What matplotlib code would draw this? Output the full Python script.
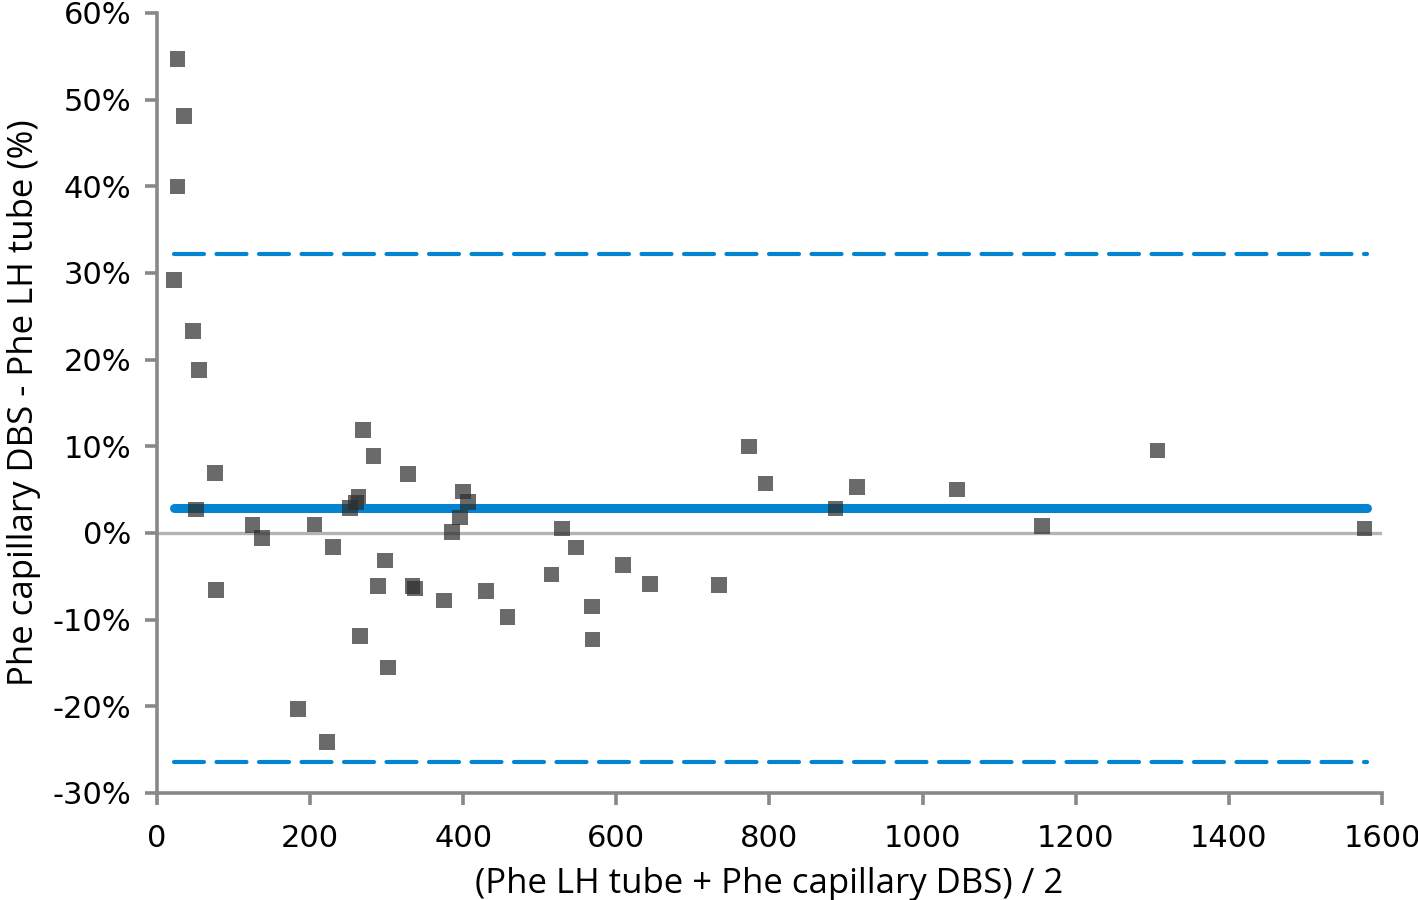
import matplotlib
matplotlib.use("Agg")
import matplotlib.pyplot as plt
from matplotlib.ticker import FuncFormatter

# Bland-Altman data: mean of the two methods vs relative difference (%)
mean_phe = [27, 35, 27, 22, 47, 55, 51, 76, 77, 125, 137, 184, 206, 230, 222,
            252, 260, 263, 265, 269, 283, 289, 298, 302, 328, 334, 337, 375,
            385, 396, 400, 406, 430, 458, 515, 529, 547, 568, 569, 609, 644,
            734, 773, 795, 886, 914, 1045, 1156, 1307, 1577]
diff_pct = [54.7, 48.1, 40.0, 29.2, 23.3, 18.8, 2.7, 6.9, -6.6, 0.9, -0.6,
            -20.3, 1.0, -1.6, -24.1, 2.9, 3.5, 4.2, -11.9, 11.9, 8.9, -6.1,
            -3.2, -15.5, 6.8, -6.1, -6.4, -7.8, 0.1, 1.8, 4.8, 3.6, -6.7, -9.7,
            -4.8, 0.5, -1.7, -8.5, -12.3, -3.7, -5.9, -6.0, 10.0, 5.7, 2.8,
            5.3, 5.0, 0.8, 9.5, 0.5]

bias = 2.9
upper_loa = 32.2
lower_loa = -26.4
line_x = [22, 1580]

blue = "#0384d0"

fig = plt.figure(figsize=(14.18, 9), dpi=100)
ax = fig.add_axes([0.1107, 0.1189, 0.8639, 0.8667])

ax.axhline(0, color="#b3b3b3", lw=2.4, zorder=1)
ax.plot(line_x, [bias, bias], color=blue, lw=6.5, solid_capstyle="round", zorder=2)
for v in (upper_loa, lower_loa):
    ax.plot(line_x, [v, v], color=blue, lw=3, dashes=(7.2, 3.0),
            dash_capstyle="round", zorder=2)

ax.scatter(mean_phe, diff_pct, marker="s", s=125, color="#2d2d2d", alpha=0.71,
           edgecolors="none", zorder=3)

ax.set_xlim(0, 1600)
ax.set_ylim(-30, 60)
ax.set_xticks(range(0, 1601, 200))
ax.set_yticks(range(-30, 61, 10))
ax.yaxis.set_major_formatter(FuncFormatter(lambda v, p: f"{v:.0f}%"))

for s in ("top", "right"):
    ax.spines[s].set_visible(False)
for s in ("left", "bottom"):
    ax.spines[s].set_color("#888888")
    ax.spines[s].set_linewidth(2.6)
ax.tick_params(direction="out", length=8.5, width=2.6, color="#888888",
               labelsize=22)
ax.tick_params(axis="x", pad=14)
ax.tick_params(axis="y", pad=10)
for lab in ax.get_xticklabels() + ax.get_yticklabels():
    lab.set_family("DejaVu Sans")

ax.set_xlabel("(Phe LH tube + Phe capillary DBS) / 2", fontsize=25,
              family="Open Sans", labelpad=10)
ax.set_ylabel("Phe capillary DBS - Phe LH tube (%)", fontsize=25,
              family="Open Sans", labelpad=8)

fig.savefig("out.png", dpi=100)
